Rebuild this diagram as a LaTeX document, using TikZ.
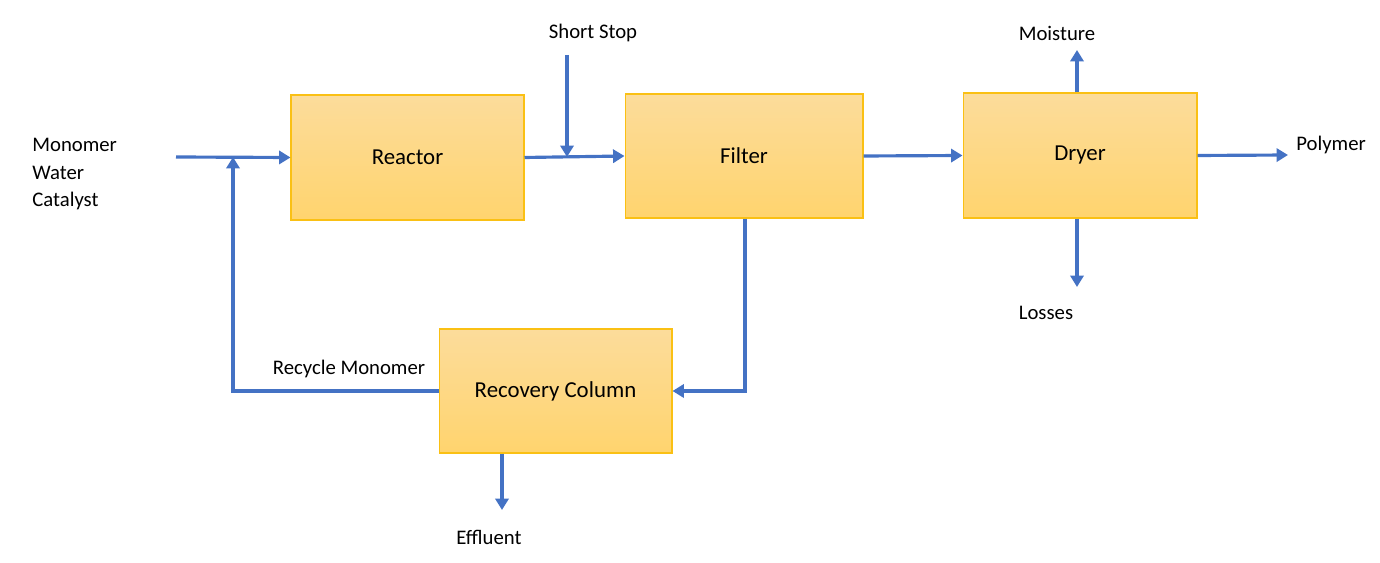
\documentclass[tikz,border=0pt]{standalone}
\usepackage{fontspec}
\setmainfont{Carlito}
\usetikzlibrary{arrows.meta}
\definecolor{flow}{RGB}{68,114,196}
\definecolor{boxtop}{RGB}{252,220,155}
\definecolor{boxbot}{RGB}{255,212,110}
\definecolor{boxline}{RGB}{250,192,20}
\begin{document}
\begin{tikzpicture}[x=0.02cm,y=-0.02cm,
  unit/.style={draw=boxline,line width=0.6pt,top color=boxtop,bottom color=boxbot,
     minimum width=4.66cm,minimum height=2.5cm,inner sep=0pt,font=\fontsize{13}{15}\selectfont},
  lbl/.style={font=\fontsize{11.8}{14}\selectfont,inner sep=0pt},
  flowline/.style={draw=flow,line width=1.8pt,-{Triangle[length=6.5pt,width=7.5pt]}},
  plain/.style={draw=flow,line width=1.8pt}]
\useasboundingbox (0,0) rectangle (1380,563);
% boxes
\node[unit] (reactor) at (407.5,157.5) {Reactor};
\node[unit,minimum width=4.76cm,minimum height=2.48cm] (filter) at (744,156) {Filter};
\node[unit,minimum width=4.68cm,minimum height=2.5cm] (dryer) at (1080,155.5) {Dryer};
\node[unit,minimum width=4.66cm,minimum height=2.48cm] (recovery) at (555.5,391) {Recovery Column};
% labels
\node[lbl,anchor=west] (feed1) at (32,145) {Monomer};
\node[lbl,anchor=west] (feed2) at (32,173) {Water};
\node[lbl,anchor=west] (feed3) at (32,201) {Catalyst};
\node[lbl] (short) at (593,33) {Short Stop};
\node[lbl] (moist) at (1057,33) {Moisture};
\node[lbl,anchor=west] (poly) at (1296,145) {Polymer};
\node[lbl] (loss) at (1046,313) {Losses};
\node[lbl] (recyc) at (349,369) {Recycle Monomer};
\node[lbl] (eff) at (489,537) {Effluent};
% coordinates
\coordinate (feedstart) at (176,157);
\coordinate (mix) at (233,157);
\coordinate (recycorner) at (233,391);
\coordinate (ssstart) at (567,55);
\coordinate (ssend) at (567,157);
\coordinate (filtcorner) at (745,391);
\coordinate (effend) at (502,510);
\coordinate (moistend) at (1077,50);
\coordinate (lossend) at (1077,287);
\coordinate (polyend) at (1288,155);
% connectors
\draw[flowline] (feedstart) -- (reactor.west);
\draw[flowline] (recovery.west) -- (recycorner) -- (mix);
\draw[flowline] (reactor.east) -- (filter.west);
\draw[flowline] (ssstart) -- (ssend);
\draw[flowline] (filter.east) -- (dryer.west);
\draw[flowline] (filter.south -| filtcorner) -- (filtcorner) -- (recovery.east);
\draw[flowline] (recovery.south -| effend) -- (effend);
\draw[flowline] (dryer.north -| moistend) -- (moistend);
\draw[flowline] (dryer.south -| lossend) -- (lossend);
\draw[flowline] (dryer.east) -- (polyend);
\end{tikzpicture}
\end{document}
